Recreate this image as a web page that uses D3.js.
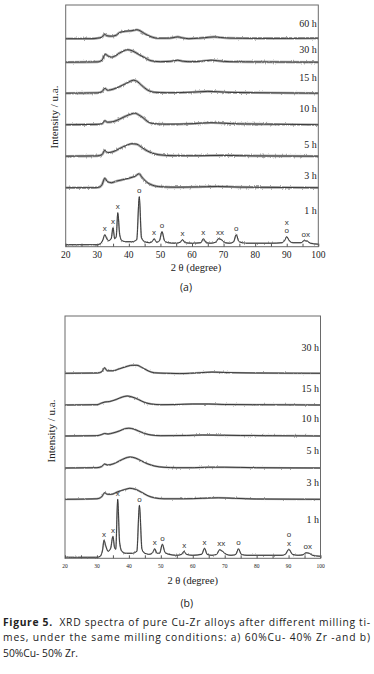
<!DOCTYPE html>
<html><head><meta charset="utf-8">
<script src="https://cdn.jsdelivr.net/npm/d3@7"></script>
<style>body{margin:0;background:#fff}svg{display:block}</style>
</head><body>
<svg id="c" width="374" height="674"></svg>
<script>
// ---------- DATA ----------
const timesA = ["1 h","3 h","5 h","10 h","15 h","30 h","60 h"];
const offsetsA = [2, 59, 90.5, 122, 153.5, 184.5, 208];
const a1h = [[20,0],[30,0],[31,1],[31.8,5],[32.4,10],[33,6],[33.6,4],[34.4,6],[35,17],[35.5,6],[36,8],[36.5,32],[37.1,10],[37.8,4],[39,3],[41,3],[42.5,5],[43.3,48],[44,7],[45,3],[46.5,2],[47.5,3.5],[48,6],[48.8,2.5],[49.7,4],[50.5,13],[51.3,4],[52.5,2],[55,1.5],[56.3,2.5],[57,5],[57.8,2],[60,1.5],[62.8,2],[63.6,6],[64.5,2],[66,1.5],[67.5,2.5],[68.4,6],[69.3,5],[70.5,2],[72,1.5],[73.2,3],[74,10],[74.9,3],[77,1.5],[85,1.5],[88.5,2],[89.3,4],[90,8],[90.8,4],[92,2],[94.5,2],[95.5,4],[96.5,3.5],[97.5,1.5],[100,0.5]];
const a3h = [[20,0],[29,0],[30.5,0.5],[31.5,3],[32.4,9.5],[33.2,6],[34.5,5],[36,6.5],[38,8],[40,9.5],[42,11.5],[43.3,14],[44,11],[45.5,6],[47.5,2.5],[50,1],[55,0.5],[62,0.8],[68,1.2],[75,0.6],[85,0.3],[100,0]];
const a5h = [[20,0],[30,0.3],[31.5,1.5],[32.4,6],[33.2,3.5],[35,4.5],[37,7.5],[39,10.5],[41,12.5],[42.5,12],[44,9],[46,5],[48,2.5],[51,1],[55,0.5],[62,0.5],[70,0.8],[80,0.3],[100,0]];
const a10h = [[20,0],[30,0.3],[31.5,1],[32.4,4],[33.2,2.5],[35,3],[37,5.5],[39,8.5],[41,11],[42,11.5],[43,10],[44.5,7],[46,3],[48,1],[52,0.5],[60,1],[66,2],[70,1.5],[75,0.8],[85,0.5],[100,0]];
const a15h = [[20,0],[30,0.3],[31.5,1.5],[32.4,5],[33.2,3],[35,4],[37,6.5],[39,9.5],[40.5,12],[41.5,13],[42.5,12],[44,8],[46,3],[48,1],[52,0.5],[60,1],[65,1.8],[68,1.5],[72,0.8],[80,0.5],[100,0]];
const a30h = [[20,0],[30,0.3],[31.5,2],[32.5,8],[33.5,6],[34.5,5],[35.5,6],[37,9],[38.5,11.5],[39.5,12.5],[41,11.5],[43,8],[45,4.5],[47,1.5],[50,0.5],[53,0.8],[55.5,2],[57,1],[60,0.5],[63,1],[66,2],[68,1.5],[72,0.5],[80,0.3],[100,0]];
const a60h = [[20,0],[28,0],[30,0.5],[31.5,1.5],[32.3,4.5],[33,3],[34.5,2.5],[36,3.5],[37,6],[39,7.5],[41,8],[42.5,9],[43.5,8],[45,5],[47,2],[49,0.5],[52,0.5],[54,1],[55.5,1.8],[57,0.8],[59,0],[62,0.5],[64,1],[67,1.8],[69,1.2],[72,0.6],[76,0.4],[82,0.3],[90,0.3],[100,0.5]];

const timesB = ["1 h","3 h","5 h","10 h","15 h","30 h"];
const offsetsB = [1, 59, 90.3, 122.3, 153.3, 185];
const b1h = [[20,0],[30,0],[31,1],[31.8,8],[32.2,17],[32.8,11],[33.5,6],[34.3,9],[35,21],[35.5,10],[35.9,8],[36.5,58],[37.1,15],[37.8,6],[39,4],[41,4],[42.5,6],[43.3,52],[44.1,8],[45,4],[46.5,3],[47.5,5],[48.1,8.5],[48.8,4],[49.6,4],[50.5,13],[51.3,5],[52.5,3],[55,2],[56.5,3],[57.3,6],[58,3],[60,2],[62.8,3],[63.7,9],[64.5,3],[66,2],[67.5,3],[68.4,7.5],[69.3,6],[70.5,3],[72,2],[73.5,3],[74.3,8.5],[75.2,3],[77,2],[82,2],[85,2],[88,2],[89,3],[90.1,8],[91.2,3],[93,2],[94.5,2.5],[95.5,4.5],[96.5,4],[97.5,2],[100,1]];
const b3h = [[20,0],[30,0.5],[31.5,2.5],[32.4,6.5],[33.3,5],[34.5,5],[36.5,7.5],[39,10],[40.3,11],[42,10],[44,7],[46,3.5],[48,1.5],[51,0.5],[57,0.5],[63,1],[68,1.5],[73,1],[80,0.3],[100,0]];
const b5h = [[20,0],[30,0.3],[31.5,1.5],[32.4,4],[33.3,3],[35,4],[37,7],[39,10],[40.3,11],[42,10],[44,7],[46,4],[48,2],[51,0.7],[55,0.3],[60,0.3],[65,0.8],[70,0.8],[80,0.3],[100,0]];
const b10h = [[20,0],[30,0.3],[31.5,1.5],[32.4,2.5],[33.5,2],[35,3],[37,5],[39,7.5],[40,7.8],[41.5,7],[43,5],[45,2.5],[47,1],[50,0.3],[58,0.5],[63,1],[68,0.8],[75,0.5],[85,0.3],[100,0]];
const b15h = [[20,0],[30,0.3],[31.5,2],[32.5,3],[34,3.5],[36,5.5],[38,8],[39.5,9],[41,8],[43,5.5],[45,2.5],[47,1],[50,0.3],[55,0.5],[60,1],[65,1],[70,0.5],[80,0.3],[100,0]];
const b30h = [[20,0],[30,0.3],[31.5,1.5],[32.4,5.5],[33.2,2.5],[35,2.5],[37,4.5],[39,6.5],[41,8],[42.5,8],[44,6],[46,2.5],[48,0.5],[52,0],[56,-0.3],[62,0.5],[66,1.2],[70,0.8],[80,0.3],[100,0]];

// phase markers on the 1 h pattern: angle, symbol(s) stacked top->bottom
const markersA = [[32.4,["x"]],[35,["x"]],[36.5,["x"]],[43.3,["o"]],[48,["x"]],[50.5,["o"]],[57,["x"]],[63.6,["x"]],[68.9,["xx"]],[74,["o"]],[90,["x","o"]],[96,["ox"]]];
const markersB = [[32.2,["x"]],[35,["x"]],[36.5,["x"]],[43.3,["o"]],[48.1,["x"]],[50.5,["o"]],[57.3,["x"]],[63.7,["x"]],[68.9,["xx"]],[74.3,["o"]],[90.1,["o","x"]],[96,["ox"]]];

const xTicks = [20,30,40,50,60,70,80,90,100];
const captionLines = [
  ["Figure 5.", "  XRD spectra of pure Cu-Zr alloys after different milling ti-"],
  ["", "mes, under the same milling conditions: a) 60%Cu- 40% Zr -and b)"],
  ["", "50%Cu- 50% Zr."]
];

// ---------- DRAW ----------
const svg = d3.select("#c");
const defs = svg.append("defs");
function noiseFilter(id, seed, scale){
  const f = defs.append("filter").attr("id", id).attr("filterUnits","userSpaceOnUse")
    .attr("x",0).attr("y",0).attr("width",374).attr("height",674)
    .attr("color-interpolation-filters","sRGB");
  f.append("feTurbulence").attr("type","fractalNoise").attr("baseFrequency","0.9 0.25")
    .attr("numOctaves",1).attr("seed",seed).attr("result","t");
  const ct = f.append("feComponentTransfer").attr("in","t").attr("result","n");
  ct.append("feFuncR").attr("type","linear").attr("slope",0).attr("intercept",0.5);
  ct.append("feFuncA").attr("type","linear").attr("slope",0).attr("intercept",1);
  f.append("feDisplacementMap").attr("in","SourceGraphic").attr("in2","n")
    .attr("scale",scale).attr("xChannelSelector","R").attr("yChannelSelector","G");
}
noiseFilter("haloA", 3, 3.2);
noiseFilter("lineA", 5, 1.6);
noiseFilter("haloB", 7, 2.6);
noiseFilter("lineB", 9, 1.3);

function panel(cfg){
  const x = d3.scaleLinear().domain([20,100]).range([cfg.left, cfg.right]);
  const y = d3.scaleLinear().domain([0, cfg.bottom - cfg.top]).range([cfg.bottom, cfg.top]);
  const g = svg.append("g");
  const line = d3.line().x(d=>x(d[0])).y(d=>y(d[1])).curve(d3.curveMonotoneX);
  const cg = g.append("g");
  cfg.series.forEach((s,i)=>{
    const pts = s.map(d=>[d[0], d[1] + cfg.offsets[i]]);
    cg.append("path").attr("d", line(pts)).attr("fill","none")
      .attr("stroke","#a8a8a8").attr("stroke-width", i===0 ? 1.4 : cfg.fuzz)
      .attr("filter", `url(#${cfg.halo})`);
    cg.append("path").attr("d", line(pts)).attr("fill","none")
      .attr("stroke","#1e1e1e").attr("stroke-width", 0.8)
      .attr("filter", `url(#${cfg.lf})`);
  });
  // frame
  g.append("rect").attr("x",cfg.left).attr("y",cfg.top)
    .attr("width",cfg.right-cfg.left).attr("height",cfg.bottom-cfg.top)
    .attr("fill","none").attr("stroke","#6a6a6a").attr("stroke-width",1);
  // x axis
  const ax = g.append("g").attr("transform",`translate(0,${cfg.bottom})`)
    .call(d3.axisBottom(x).tickValues(d3.range(20,101,5)).tickSize(-3).tickFormat(""));
  ax.select(".domain").remove();
  ax.selectAll("line").attr("stroke","#555");
  g.selectAll(".tl").data(xTicks).join("text")
    .attr("x", d=>x(d)).attr("y", cfg.tickY).attr("text-anchor","middle")
    .attr("font-family","Liberation Serif, serif").attr("font-size", cfg.tickFs).attr("fill","#222")
    .text(d=>d);
  g.append("text").attr("x", cfg.titleX).attr("y", cfg.titleY).attr("text-anchor","middle")
    .attr("font-family","Liberation Serif, serif").attr("font-size",10.5).attr("fill","#222")
    .text("2 θ (degree)");
  g.append("text").attr("transform",`translate(${cfg.ylabX},${cfg.ylabY}) rotate(-90)`)
    .attr("text-anchor","middle").attr("font-family","Liberation Serif, serif")
    .attr("font-size",11).attr("fill","#222").text("Intensity / u.a.");
  g.append("text").attr("x", cfg.capX).attr("y", cfg.capY).attr("text-anchor","middle")
    .attr("font-family","Open Sans, sans-serif").attr("font-size",10.5).attr("fill","#222")
    .text(cfg.cap);
  cfg.times.forEach((t,i)=>{
    g.append("text").attr("x", cfg.right - 1.5).attr("y", y(cfg.offsets[i]) - cfg.labGap[i] + 3.5)
      .attr("text-anchor","end").attr("font-family","Liberation Serif, serif")
      .attr("font-size",10).attr("fill","#222").text(t);
  });
  const s0 = cfg.series[0];
  cfg.markers.forEach(([ang, syms])=>{
    const near = s0.filter(d=>Math.abs(d[0]-ang) <= 0.7);
    const peak = d3.max(near, d=>d[1]) + cfg.offsets[0];
    const yy = y(peak) - 3.5;
    syms.slice().reverse().forEach((sym,k)=>{
      g.append("text").attr("x", x(ang)).attr("y", yy - k*8.5)
        .attr("text-anchor","middle").attr("font-family","Liberation Sans, sans-serif")
        .attr("font-size",8).attr("fill","#333").text(sym);
    });
  });
}

panel({left:65.7, right:318.3, top:5, bottom:246.7, series:[a1h,a3h,a5h,a10h,a15h,a30h,a60h],
  offsets:offsetsA, times:timesA, labGap:[34,12,12,16,16,13,15], markers:markersA,
  tickY:257.5, tickFs:9.5, titleX:196, titleY:270.5, ylabX:58, ylabY:117, capX:186, capY:290.5, cap:"(a)",
  halo:"haloA", lf:"lineA", fuzz:2.6});
panel({left:65, right:320.5, top:316, bottom:558.3, series:[b1h,b3h,b5h,b10h,b15h,b30h],
  offsets:offsetsB, times:timesB, labGap:[38,17,18,18,17,26], markers:markersB,
  tickY:568, tickFs:5.5, titleX:192.7, titleY:584, ylabX:55, ylabY:431, capX:186.7, capY:607, cap:"(b)",
  halo:"haloB", lf:"lineB", fuzz:2});

const cap = svg.append("g").attr("font-family","Open Sans, sans-serif").attr("font-size",10.3).attr("fill","#222");
const capYs = [625.5, 641, 656.5];
captionLines.forEach((ln,i)=>{
  const t = cap.append("text").attr("x",3).attr("y",capYs[i]).attr("xml:space","preserve");
  if (i < 2) t.attr("textLength", 367).attr("lengthAdjust","spacing");
  if (ln[0]) t.append("tspan").attr("font-weight","bold").text(ln[0]);
  t.append("tspan").text(ln[1]);
});
</script>
</body></html>
